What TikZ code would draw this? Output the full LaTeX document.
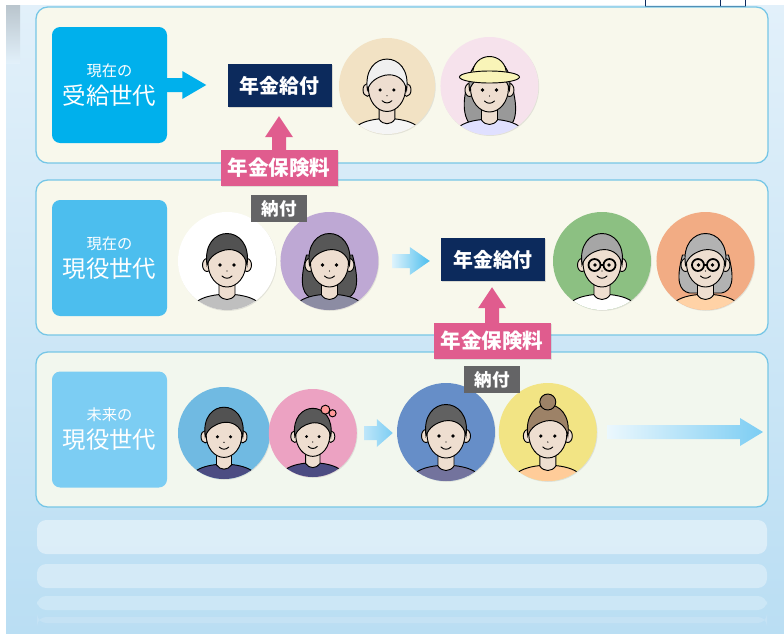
\documentclass[tikz,border=0pt]{standalone}
\usepackage{fontspec}
\newfontfamily\jp{Noto Sans CJK JP}
\usepackage{tikz}
\usetikzlibrary{arrows.meta, positioning, shadows, calc, backgrounds}

\definecolor{bgtop}{RGB}{226,240,250}
\definecolor{bgbot}{RGB}{186,222,243}
\definecolor{cream}{RGB}{248,248,236}
\definecolor{cream2}{RGB}{242,247,238}
\definecolor{panelline}{RGB}{118,198,230}
\definecolor{gen1}{RGB}{0,176,236}
\definecolor{gen2}{RGB}{76,190,238}
\definecolor{gen3}{RGB}{124,205,243}
\definecolor{navy}{RGB}{12,42,92}
\definecolor{pensionpink}{RGB}{224,92,142}
\definecolor{paidgray}{RGB}{100,100,102}
\definecolor{skin}{RGB}{238,222,208}
% portrait backdrops
\definecolor{beige}{RGB}{242,226,196}
\definecolor{rose}{RGB}{246,226,236}
\definecolor{lilac}{RGB}{190,168,212}
\definecolor{sage}{RGB}{140,192,130}
\definecolor{apricot}{RGB}{242,172,132}
\definecolor{aqua}{RGB}{112,186,226}
\definecolor{peony}{RGB}{236,162,194}
\definecolor{denim}{RGB}{102,142,200}
\definecolor{lemon}{RGB}{242,228,132}

% one pixel of the layout grid
\newcommand{\pxu}{0.03cm}

% fat block arrows, tail -> tip
\newcommand{\fatright}[4]{% style, tail, tip, head length
  \path[#1] ($(#2)+(0,-7)$) -- ($(#3)+(-#4,-7)$) -- ($(#3)+(-#4,-14)$) -- (#3)
    -- ($(#3)+(-#4,14)$) -- ($(#3)+(-#4,7)$) -- ($(#2)+(0,7)$) -- cycle;}
\newcommand{\fatup}[4]{% style, tail, tip, head length
  \path[#1] ($(#2)+(-7,0)$) -- ($(#3)+(-7,#4)$) -- ($(#3)+(-14,#4)$) -- (#3)
    -- ($(#3)+(14,#4)$) -- ($(#3)+(7,#4)$) -- ($(#2)+(7,0)$) -- cycle;}

% portrait in a round frame
\newcommand{\person}[8]{% name, placement, radius, backdrop, hair, shirt, behind, front
  \node[face=#3, fill=#4, #2] (#1) {};
  \begin{scope}
    \clip (#1.center) circle (#3);
    \begin{scope}[shift={(#1.center)}, scale=#3/49, line width=0.8pt]
      #7
      \filldraw[fill=#6] (-42,64) .. controls (-40,40) and (-24,34) .. (0,33)
        .. controls (24,34) and (40,40) .. (42,64) -- cycle;
      \filldraw[fill=skin] (-8,16) -- (-8,34) .. controls (-4,40) and (4,40) .. (8,34) -- (8,16) -- cycle;
      \filldraw[fill=skin] (-20,4) ellipse (4.5 and 6.5) (20,4) ellipse (4.5 and 6.5);
      \filldraw[fill=skin] (0,2) ellipse (19 and 24);
      \filldraw[fill=#5] (-20,4) .. controls (-26,-38) and (26,-38) .. (20,4)
        .. controls (18,-8) and (8,-13) .. (-2,-11) .. controls (-10,-9) and (-17,-5) .. (-20,4) -- cycle;
      \fill (-7,4) circle (1.8) (7,4) circle (1.8);
      \fill (0,10) circle (0.7);
      \draw[line cap=round] (-5,15) .. controls (-2,18) and (2,18) .. (5,15);
      #8
    \end{scope}
  \end{scope}}

\newcommand{\glasses}{\draw[line width=1.5pt] (-7.5,4) circle (6) (7.5,4) circle (6) (-1.5,4) -- (1.5,4);}

\begin{document}
\begin{tikzpicture}[
    x=\pxu, y=-\pxu,
    % Styles
    panel/.style={rounded corners=10pt, draw=panelline, line width=1.1pt, fill=cream},
    genbox/.style={rectangle, rounded corners=7pt, minimum width=115*\pxu, minimum height=116*\pxu, align=center, text=white, font=\jp, inner sep=0pt},
    paybox/.style={rectangle, fill=navy, text=white, font=\jp\bfseries\fontsize{17}{20}\selectfont, minimum width=104*\pxu, minimum height=43*\pxu, inner sep=0pt, drop shadow={opacity=0.25, shadow xshift=1pt, shadow yshift=-1pt}},
    premium/.style={rectangle, fill=pensionpink, text=white, font=\jp\bfseries\fontsize{17.5}{20}\selectfont, minimum width=117*\pxu, minimum height=36*\pxu, inner sep=0pt, drop shadow={opacity=0.2, shadow xshift=1pt, shadow yshift=-1pt}},
    paid/.style={rectangle, fill=paidgray, text=white, font=\jp\bfseries\fontsize{15}{18}\selectfont, minimum width=56*\pxu, minimum height=27*\pxu, inner sep=0pt},
    face/.style={circle, inner sep=0pt, minimum size=2*#1*\pxu, drop shadow={opacity=0.18, shadow xshift=0.6pt, shadow yshift=-0.8pt}},
    fade/.style={fill=white, rounded corners=8pt}
]
    \useasboundingbox (0,0) rectangle (784,633);

    % Backdrop and generation rows
    \begin{scope}[on background layer]
    \fill[white] (0,0) rectangle (784,633);
    \shade[top color=bgtop, bottom color=bgbot] (6,5) rectangle (784,633);
    \shade[top color=black!18!bgtop, bottom color=bgtop] (6,5) rectangle (20,63);
    \draw[navy, line width=0.8pt] (645,0) -- (645,6) -- (745,6) -- (745,0) (720,0) -- (720,6);
    \draw[panel] (36,7) rectangle (768,163);
    \draw[panel] (36,180) rectangle (768,335);
    \draw[panel, fill=cream2] (36,352) rectangle (768,507);
    \fill[fade, opacity=0.45] (37,520) rectangle (767,554);
    \fill[fade, opacity=0.35] (37,564) rectangle (767,588);
    \fill[fade, opacity=0.25] (37,596) rectangle (767,610);
    \fill[fade, opacity=0.15] (37,617) rectangle (767,623);
    \end{scope}

    % Row labels
    \node[genbox, fill=gen1] (recv) at (109.5,85) {{\fontsize{13}{16}\selectfont 現在の}\\[5pt]{\fontsize{20}{26}\selectfont 受給世代}};
    \node[genbox, fill=gen2] (work) at (109.5,258) {{\fontsize{13}{16}\selectfont 現在の}\\[5pt]{\fontsize{20}{26}\selectfont 現役世代}};
    \node[genbox, fill=gen3] (future) at (109.5,429.5) {{\fontsize{13}{16}\selectfont 未来の}\\[5pt]{\fontsize{20}{26}\selectfont 現役世代}};

    % Pension payouts
    \node[paybox] (pay1) at (279.5,85.5) {年金給付};
    \node[paybox] (pay2) at (493,259.5) {年金給付};

    % Portraits
    \person{old1}{at={(387,86)}}{48}{beige}{black!6}{black!4}{}{}
    \person{old2}{right=0.15cm of old1}{49}{rose}{black!40}{blue!12!white}
      {\filldraw[fill=black!40] (-22,-2) .. controls (-30,26) and (-22,40) .. (-12,44) -- (14,44) .. controls (26,40) and (30,26) .. (22,-2) -- cycle;}
      {\filldraw[fill=brown!30!yellow!30!white] (-17,-10) .. controls (-18,-36) and (18,-36) .. (17,-10) -- cycle;
       \fill[brown!50!yellow!40!white] (-17,-15) rectangle (17,-10);
       \filldraw[fill=brown!30!yellow!30!white] (0,-9) ellipse (30 and 6);}
    \person{mid1}{at={(227,261)}}{49}{white}{black!68}{black!25}{}{}
    \person{mid2}{right=0.12cm of mid1}{49}{lilac}{black!66}{blue!20!black!45}
      {\filldraw[fill=black!66] (-23,-6) .. controls (-31,24) and (-27,36) .. (-14,38) -- (14,38) .. controls (27,36) and (31,24) .. (23,-6) -- cycle;}{}
    \person{elder1}{at={(602,261)}}{49}{sage}{black!35}{white}{}{\glasses}
    \person{elder2}{right=0.15cm of elder1}{49}{apricot}{black!30}{orange!35!white}
      {\filldraw[fill=black!30] (-23,-6) .. controls (-30,20) and (-26,30) .. (-16,32) -- (16,32) .. controls (26,30) and (30,20) .. (23,-6) -- cycle;}{\glasses}
    \person{kid1}{at={(224,433)}}{46}{aqua}{black!68}{blue!30!black!70}{}{}
    \person{kid2}{right=-0.05cm of kid1}{44}{peony}{black!65}{blue!30!black!70}{}
      {\filldraw[fill=red!40!white] (14,-26) circle (5) (22,-22) circle (4);}
    \person{young1}{at={(446,432)}}{49}{denim}{black!62}{blue!30!black!55}{}{}
    \person{young2}{right=0.1cm of young1}{49}{lemon}{brown!60!black!70}{orange!40!white}{}
      {\filldraw[fill=brown!60!black!70] (0,-30) circle (8);}

    % Flow arrows
    \coordinate (a1) at ($(recv.east -| pay1.west)+(-21,0)$);
    \fatright{fill=gen1}{recv.east}{a1}{24}
    \coordinate (a2s) at ($(mid2.east)+(14,0)$);
    \coordinate (a2e) at ($(pay2.west |- a2s)+(-11,0)$);
    \fatright{left color=gen2!20!white, right color=gen2}{a2s}{a2e}{20}
    \coordinate (a3s) at ($(kid2.east)+(7,0)$);
    \coordinate (a3e) at ($(young1.west |- a3s)+(-4,0)$);
    \fatright{left color=gen3!50!white, right color=gen3}{a3s}{a3e}{16}
    \coordinate (a4s) at ($(young2.east)+(10,0)$);
    \coordinate (next) at (763,432);
    \fatright{left color=gen3!15!white, right color=gen3}{a4s}{next}{23}

    % Premiums paid upwards
    \node[premium] (prem1) at (279,168) {年金保険料};
    \node[premium] (prem2) at (492,341) {年金保険料};
    \node[paid, below=0.27cm of prem1] (paid1) {納付};
    \node[paid, below=0.21cm of prem2] (paid2) {納付};
    \coordinate (u1) at ($(pay1.south -| prem1.north)+(0,9)$);
    \coordinate (u2) at ($(pay2.south -| prem2.north)+(0,6)$);
    \begin{scope}[on background layer]
    \fatup{fill=pensionpink}{prem1.north}{u1}{21}
    \fatup{fill=pensionpink}{prem2.north}{u2}{21}
    \end{scope}
\end{tikzpicture}
\end{document}
